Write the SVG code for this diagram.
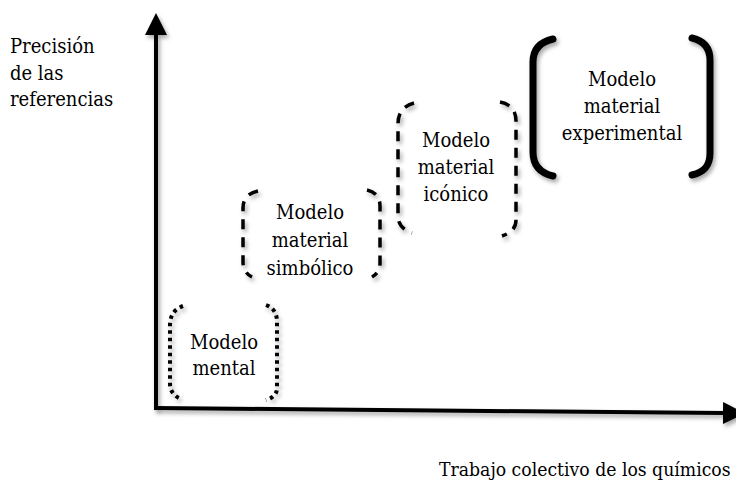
<svg xmlns="http://www.w3.org/2000/svg" width="736" height="485" viewBox="0 0 736 485">
<defs>
<filter id="sh" filterUnits="userSpaceOnUse" x="0" y="0" width="736" height="485">
<feDropShadow dx="2" dy="3" stdDeviation="2" flood-color="#000" flood-opacity="0.35"/>
</filter>
<marker id="arr" markerWidth="22" markerHeight="22" refX="1" refY="11" orient="auto" markerUnits="userSpaceOnUse" viewBox="0 0 22 22">
<path d="M0,0 L22,11 L0,22 Z" fill="#000"/>
</marker>
</defs>
<style>
text{font-family:"DejaVu Serif Condensed","DejaVu Serif","Liberation Serif",serif;font-stretch:condensed;font-size:20px;fill:#000}
.c{text-anchor:middle}
.xl{font-size:19.2px}
.b{fill:none;stroke:#000;filter:url(#sh)}
.dot{stroke-width:4;stroke-dasharray:3.5 4}
.dash{stroke-width:3.5;stroke-dasharray:10 8}
.solid{stroke-width:7;stroke-linecap:round}
.ax{fill:none;stroke:#000;stroke-width:4;filter:url(#sh)}
</style>
<rect width="736" height="485" fill="#fff"/>
<g id="axes">
<path class="ax" d="M156,410 L156,34" marker-end="url(#arr)"/>
<path class="ax" d="M156,408 L724,413" marker-end="url(#arr)"/>
</g>
<g id="label-y">
<text x="10" y="53">Precisión</text>
<text x="10" y="80">de las</text>
<text x="10" y="106">referencias</text>
</g>
<g id="label-x">
<text class="xl" x="439" y="476">Trabajo colectivo de los químicos</text>
</g>
<g id="mental">
<path class="b dot" d="M183,306 C172,310 170,318 170,326 L170,384 C170,390 173,395 179,398"/>
<path class="b dot" d="M266,305 C274,308 277,314 277,322 L277,388 C277,394 273,398 266,400"/>
<text class="c" x="224" y="349">Modelo</text>
<text class="c" x="224" y="375">mental</text>
</g>
<g id="simbolico">
<path class="b dash" d="M258,191 C248,193 243,199 243,208 L243,262 C243,269 246,274 252,277"/>
<path class="b dash" d="M367,190 C376,192 380,198 380,206 L380,263 C380,270 377,274 372,277"/>
<text class="c" x="310" y="219">Modelo</text>
<text class="c" x="310" y="247">material</text>
<text class="c" x="310" y="275">simbólico</text>
</g>
<g id="iconico">
<path class="b dash" d="M414,103 C403,106 398,113 398,124 L398,216 C398,224 403,230 412,233"/>
<path class="b dash" d="M500,102 C511,104 516,111 516,121 L516,220 C516,228 511,233 502,236"/>
<text class="c" x="456" y="147">Modelo</text>
<text class="c" x="456" y="174">material</text>
<text class="c" x="456" y="201">icónico</text>
</g>
<g id="experimental">
<path class="b solid" d="M553,39 C540,42 533,50 533,62 L533,152 C533,165 540,173 553,176"/>
<path class="b solid" d="M692,38 C705,41 710,49 710,60 L710,153 C710,165 705,172 692,175"/>
<text class="c" x="622" y="86">Modelo</text>
<text class="c" x="622" y="113">material</text>
<text class="c" x="622" y="140">experimental</text>
</g>
</svg>
